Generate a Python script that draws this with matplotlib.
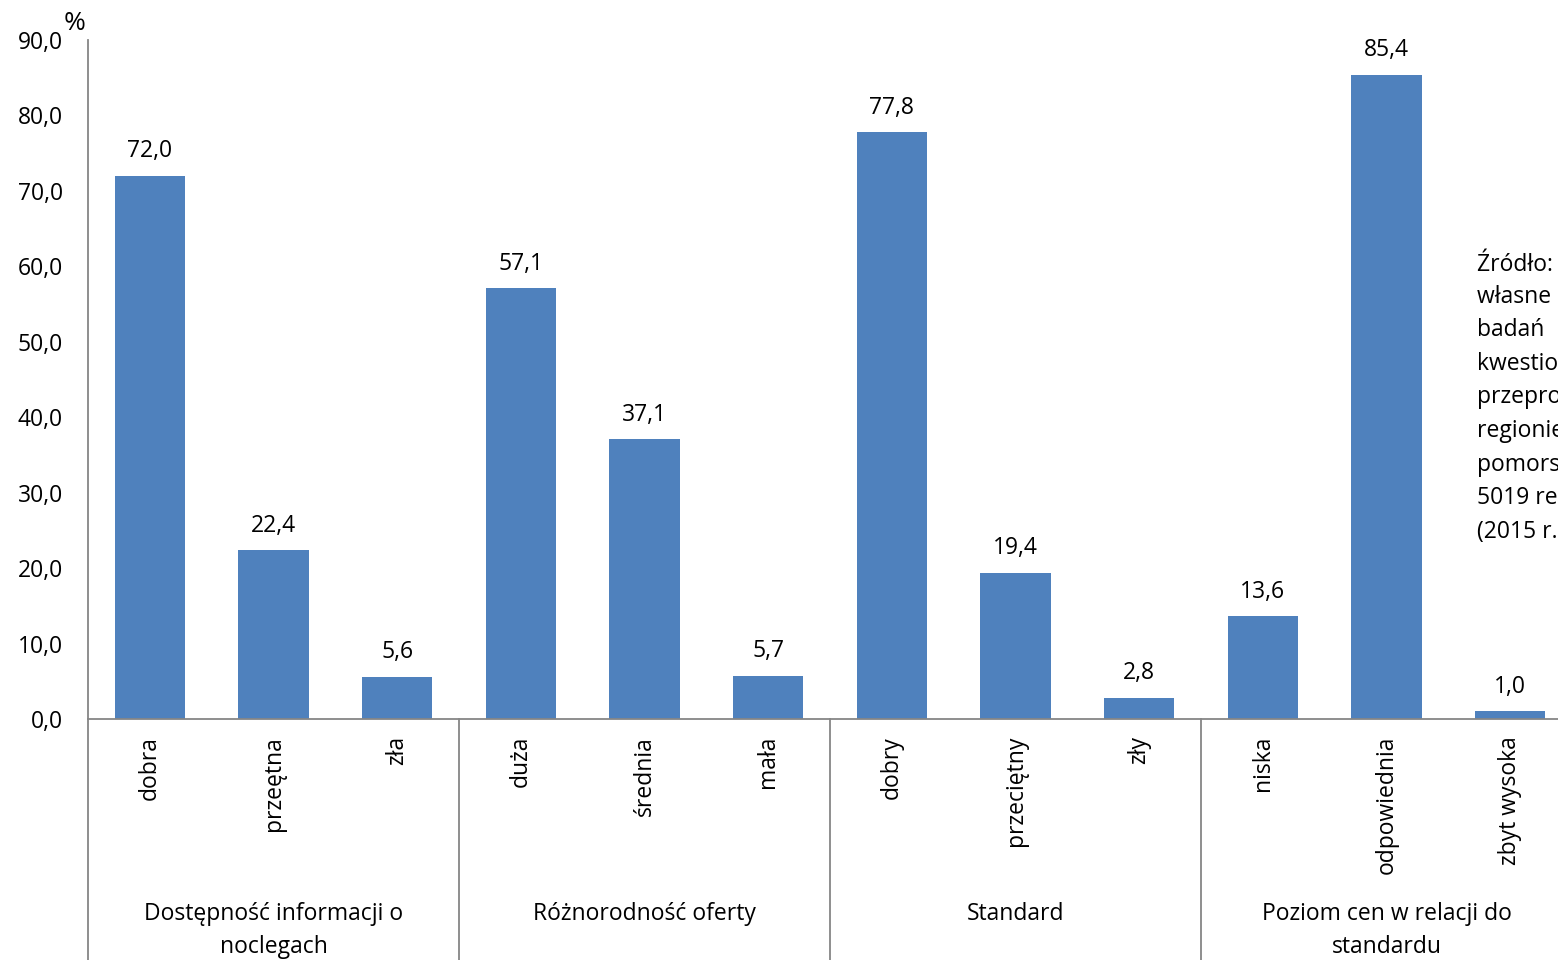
import matplotlib
matplotlib.use("Agg")
import matplotlib.pyplot as plt
from matplotlib.transforms import blended_transform_factory

plt.rcParams['font.family'] = ['Open Sans', 'DejaVu Sans']

categories = ["dobra", "przeętna", "zła",
              "duża", "średnia", "mała",
              "dobry", "przeciętny", "zły",
              "niska", "odpowiednia", "zbyt wysoka"]
values = [72.0, 22.4, 5.6, 57.1, 37.1, 5.7, 77.8, 19.4, 2.8, 13.6, 85.4, 1.0]
groups = ["Dostępność informacji o\nnoclegach", "Różnorodność oferty",
          "Standard", "Poziom cen w relacji do\nstandardu"]
yticks = [0, 10, 20, 30, 40, 50, 60, 70, 80, 90]
source_lines = ["Źródło: opracowanie", "własne na podstawie", "badań",
                "kwestionariuszowych", "przeprowadzonych w", "regionie",
                "pomorskim na", "5019 respondentach", "(2015 r.)"]

W, H = 1558, 960
fig = plt.figure(figsize=(W / 100, H / 100), dpi=100)
x0, x1 = 88, 88 + 12 * 123.67
ytop, ybot = 40, 719
ax = fig.add_axes([x0 / W, (H - ybot) / H, (x1 - x0) / W, (ybot - ytop) / H])

axis_col = "#868686"
fs = 16.5
xs = list(range(len(values)))
ax.bar(xs, values, width=0.57, color="#4F81BD", zorder=2)
ax.set_xlim(-0.5, len(values) - 0.5)
ax.set_ylim(0, 90)
ax.set_yticks(yticks)
ax.set_yticklabels([f"{v:.1f}".replace(".", ",") for v in yticks], fontsize=fs)
ax.tick_params(axis="y", length=0, pad=18)
ax.set_xticks([])
for s in ["top", "right"]:
    ax.spines[s].set_visible(False)
for s in ["left", "bottom"]:
    ax.spines[s].set_color(axis_col)
    ax.spines[s].set_linewidth(1.3)

for x, v in zip(xs, values):
    ax.annotate(f"{v:.1f}".replace(".", ","), (x, v), xytext=(0, 9),
                textcoords="offset points", ha="center", va="bottom", fontsize=fs)

# category labels (rotated)
tr = blended_transform_factory(ax.transData, fig.transFigure)
for x, c in zip(xs, categories):
    fig.text(x, 1 - 736 / H, c, transform=tr, rotation=90, ha="center",
             va="top", fontsize=fs)

# group labels and separators
for i, g in enumerate(groups):
    xc = 3 * i + 1
    fig.text(xc, 1 - 902 / H, g, transform=tr, ha="center", va="top",
             fontsize=fs, linespacing=1.5)
for xb in [-0.5, 2.5, 5.5, 8.5, 11.5]:
    ax.plot([xb, xb], [1 - ybot / H, 0], transform=tr, color=axis_col,
            lw=1.3, clip_on=False)

fig.text(75 / W, 1 - 24 / H, "%", ha="center", va="center", fontsize=19)

for i, line in enumerate(source_lines):
    fig.text(1477 / W, 1 - (263 + 33.6 * i) / H, line, ha="left", va="center",
             fontsize=fs)

fig.savefig("out.png", dpi=100)
